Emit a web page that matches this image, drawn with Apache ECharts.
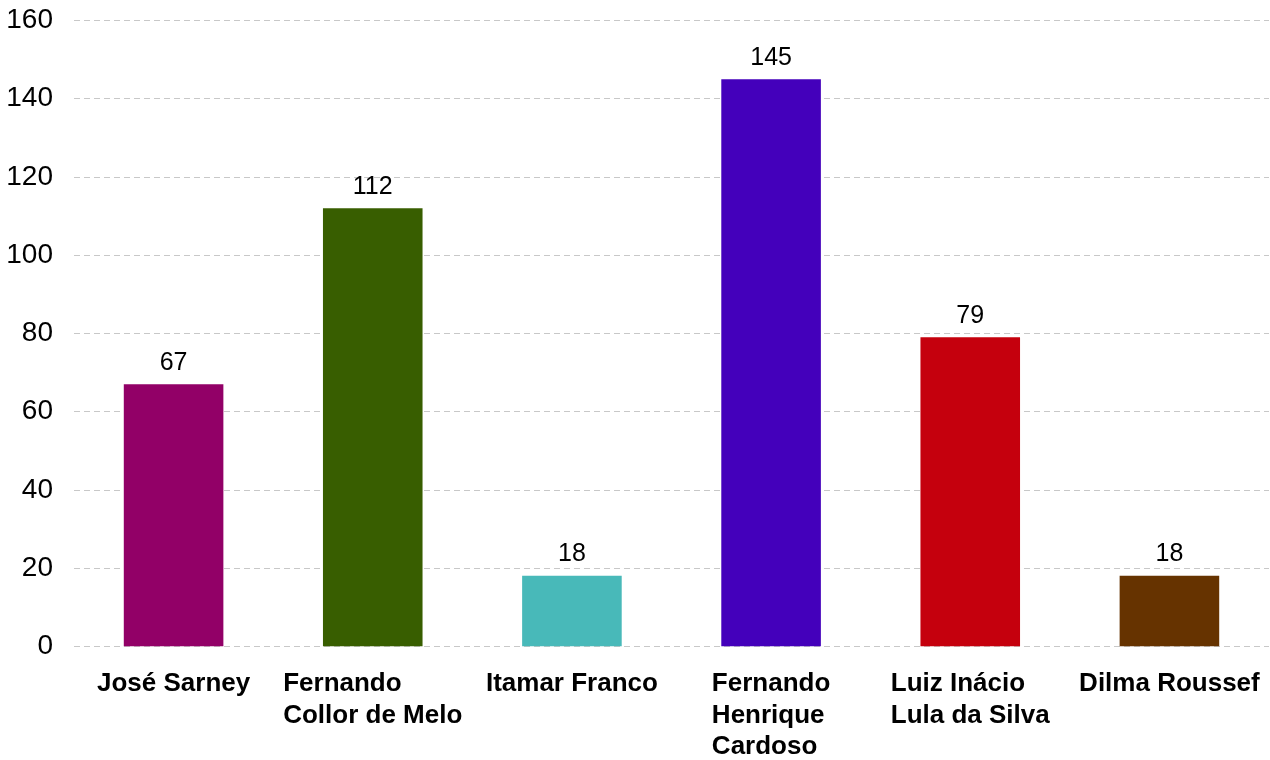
<!DOCTYPE html>
<html>
<head>
<meta charset="utf-8">
<script src="https://cdn.jsdelivr.net/npm/echarts@6/dist/echarts.min.js"></script>
<style>
html,body{margin:0;padding:0;background:#fff;}
#chart{width:1270px;height:760px;}
</style>
</head>
<body>
<div id="chart"></div>
<script>
const categories = ['José Sarney', 'Fernando\nCollor de Melo', 'Itamar Franco', 'Fernando\nHenrique\nCardoso', 'Luiz Inácio\nLula da Silva', 'Dilma Roussef'];
const values = [67, 112, 18, 145, 79, 18];
const barColors = ['#920067', '#385E00', '#48B9B9', '#4400BB', '#C5000D', '#663300'];
const yTicks = [0, 20, 40, 60, 80, 100, 120, 140, 160];

const FONT = '"Liberation Sans", Arial, sans-serif';
const chart = echarts.init(document.getElementById('chart'), null, {renderer: 'canvas'});
chart.setOption({
  backgroundColor: '#ffffff',
  animation: false,
  grid: {left: 74, right: 1, top: 20.5, bottom: 112.5, containLabel: false},
  xAxis: {
    type: 'category',
    data: categories,
    axisLine: {show: false},
    axisTick: {show: false},
    axisLabel: {
      interval: 0,
      margin: 22,
      align: 'center',
      verticalAlign: 'top',
      formatter: function (v) {
        return v.split('\n').map(function (l) { return '{a|' + l + '}'; }).join('\n');
      },
      rich: {
        a: {fontFamily: FONT, fontSize: 26, fontWeight: 'bold', color: '#000', lineHeight: 31.5, align: 'left'}
      }
    }
  },
  yAxis: {
    type: 'value',
    min: yTicks[0],
    max: yTicks[yTicks.length - 1],
    interval: 20,
    axisLine: {show: false},
    axisTick: {show: false},
    axisLabel: {fontFamily: FONT, fontSize: 28, color: '#000', margin: 21},
    splitLine: {show: true, lineStyle: {color: '#c8c8c8', type: [6, 4], width: 1}}
  },
  series: [{
    type: 'bar',
    data: values.map(function (v, i) { return {value: v, itemStyle: {color: barColors[i]}}; }),
    barWidth: '50%',
    label: {
      show: true,
      position: 'top',
      distance: 9,
      fontFamily: FONT,
      fontSize: 25,
      color: '#000'
    }
  }]
});
</script>
</body>
</html>
